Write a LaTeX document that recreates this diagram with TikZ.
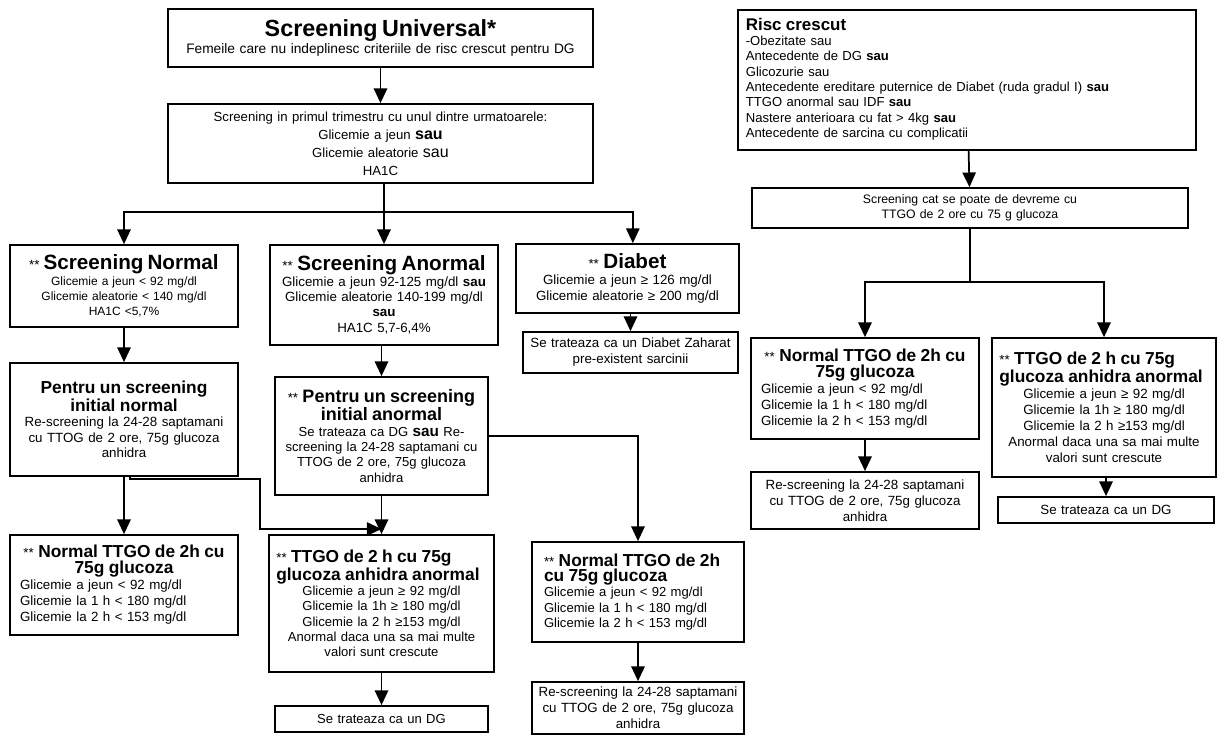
\documentclass[tikz,border=0pt]{standalone}
\usepackage{fontspec}
\setmainfont{Liberation Sans}
\usetikzlibrary{arrows.meta}

\newcommand{\stars}{{\fontsize{10}{12}\selectfont **}\ }
\newcommand{\boxtitle}[2]{{\fontsize{#1}{#1}\selectfont\bfseries #2}}
\newcommand{\ctrline}[1]{\makebox[\linewidth]{#1}}
\newcommand{\lftline}[1]{\makebox[\linewidth][l]{#1}}

\begin{document}
\begin{tikzpicture}[x=0.75pt, y=-0.75pt,
    box/.style={draw, line width=1.3pt, inner xsep=4pt, inner ysep=2pt, align=center, font=\fontsize{10}{12}\selectfont},
    line/.style={line width=1.3pt},
    arr/.style={line width=1.3pt, -{Triangle[length=11pt, width=10pt]}}
]
    \useasboundingbox (0,0) rectangle (1217,735);

    % Universal screening branch
    \node[box, text width=310.75pt, minimum height=43.5pt, font=\fontsize{10.3}{12.5}\selectfont] (univ) at (380.5,38) {
        \boxtitle{17.5}{Screening Universal*}\\
        Femeile care nu indeplinesc criteriile de risc crescut pentru DG
    };
    \node[box, text width=310.75pt, minimum height=59.25pt, font=\fontsize{9.9}{13.5}\selectfont] (trim) at (380.5,143.5) {
        Screening in primul trimestru cu unul dintre urmatoarele:\\
        Glicemie a jeun {\fontsize{12}{13.5}\selectfont\bfseries sau}\\
        Glicemie aleatorie {\fontsize{12}{13.5}\selectfont sau}\\
        HA1C
    };

    % First results
    \node[box, text width=163pt, minimum height=61.5pt, font=\fontsize{9}{11.5}\selectfont] (norm) at (124,286) {
        \stars\boxtitle{15.5}{Screening Normal}\\
        Glicemie a jeun < 92 mg/dl\\
        Glicemie aleatorie < 140 mg/dl\\
        HA1C <5,7\%
    };
    \node[box, text width=163pt, minimum height=75pt, font=\fontsize{10}{11.5}\selectfont] (anorm) at (384,295) {
        \stars\boxtitle{15.5}{Screening Anormal}\\
        Glicemie a jeun 92-125 mg/dl \textbf{sau}\\
        Glicemie aleatorie 140-199 mg/dl\\
        \textbf{sau}\\
        HA1C 5,7-6,4\%
    };
    \node[box, text width=159.25pt, minimum height=51.75pt] (diab) at (627.5,278.5) {
        \stars\boxtitle{15.5}{Diabet}\\
        Glicemie a jeun ≥ 126 mg/dl\\
        Glicemie aleatorie ≥ 200 mg/dl
    };
    \node[box, text width=153.25pt, minimum height=30.75pt] (diabt) at (630.5,352.5) {
        Se trateaza ca un Diabet Zaharat\\
        pre-existent sarcinii
    };

    % Follow-up
    \node[box, text width=163pt, minimum height=84.75pt, font=\fontsize{10}{11.5}\selectfont] (pnorm) at (124,419.5) {
        \boxtitle{13}{Pentru un screening\\ initial normal}\\
        Re-screening la 24-28 saptamani\\
        cu TTOG de 2 ore, 75g glucoza\\
        anhidra
    };
    \node[box, text width=151.75pt, minimum height=88.5pt, font=\fontsize{9.8}{11.5}\selectfont] (panorm) at (381.5,436) {
        \stars\boxtitle{13.5}{Pentru un screening\\ initial anormal}\\
        Se trateaza ca DG {\fontsize{11.5}{13}\selectfont\bfseries sau} Re-\\
        screening la 24-28 saptamani cu\\
        TTOG de 2 ore, 75g glucoza\\
        anhidra
    };

    % TTGO results, left
    \node[box, text width=156pt, inner xsep=7.5pt, minimum height=75pt, align=left] (nttgo1) at (124,585) {
        \ctrline{\stars\boxtitle{13}{Normal TTGO de 2h cu}}\\
        \ctrline{\boxtitle{13}{75g glucoza}}\\
        Glicemie a jeun < 92 mg/dl\\
        Glicemie la 1 h < 180 mg/dl\\
        Glicemie la 2 h < 153 mg/dl
    };
    \node[box, text width=157.75pt, inner xsep=5.5pt, minimum height=102.75pt, font=\fontsize{9.8}{11.5}\selectfont] (attgo1) at (381.5,603.5) {
        \lftline{\stars\boxtitle{13}{TTGO de 2 h cu 75g}}\\
        \lftline{\boxtitle{13}{glucoza anhidra anormal}}\\
        Glicemie a jeun ≥ 92 mg/dl\\
        Glicemie la 1h ≥ 180 mg/dl\\
        Glicemie la 2 h ≥153 mg/dl\\
        Anormal daca una sa mai multe\\
        valori sunt crescute
    };
    \node[box, text width=151.75pt, minimum height=19.5pt, font=\fontsize{9.8}{11.5}\selectfont] (dg1) at (381.5,719) {Se trateaza ca un DG};
    \node[box, text width=141pt, inner xsep=9pt, minimum height=75pt, align=left, font=\fontsize{9.8}{11.5}\selectfont] (nttgo2) at (638,592) {
        \stars\boxtitle{13}{Normal TTGO de 2h\\ cu 75g glucoza}\\
        Glicemie a jeun < 92 mg/dl\\
        Glicemie la 1 h < 180 mg/dl\\
        Glicemie la 2 h < 153 mg/dl
    };
    \node[box, text width=151pt, minimum height=39pt] (rescr1) at (638,708) {
        Re-screening la 24-28 saptamani\\
        cu TTOG de 2 ore, 75g glucoza\\
        anhidra
    };

    % High risk branch
    \node[box, anchor=north west, text width=331.5pt, inner xsep=6pt, inner ysep=6pt, text depth=84pt, align=left, font=\fontsize{9.8}{11.5}\selectfont] (risc) at (737,9) {
        \boxtitle{12.7}{Risc crescut}\\
        -Obezitate sau\\
        Antecedente de DG \textbf{sau}\\
        Glicozurie sau\\
        Antecedente ereditare puternice de Diabet (ruda gradul I) \textbf{sau}\\
        TTGO anormal sau IDF \textbf{sau}\\
        Nastere anterioara cu fat > 4kg \textbf{sau}\\
        Antecedente de sarcina cu complicatii
    };
    \node[box, text width=319pt, minimum height=30pt, font=\fontsize{9.2}{11.5}\selectfont] (scr2) at (970,208) {
        Screening cat se poate de devreme cu\\
        TTGO de 2 ore cu 75 g glucoza
    };
    \node[box, text width=156pt, inner xsep=7.5pt, minimum height=75.75pt, align=left] (nttgo3) at (865,388.5) {
        \ctrline{\stars\boxtitle{13}{Normal TTGO de 2h cu}}\\
        \ctrline{\boxtitle{13}{75g glucoza}}\\
        Glicemie a jeun < 92 mg/dl\\
        Glicemie la 1 h < 180 mg/dl\\
        Glicemie la 2 h < 153 mg/dl
    };
    \node[box, text width=157pt, inner xsep=5.5pt, minimum height=104.25pt] (attgo2) at (1104,407.5) {
        \lftline{\stars\boxtitle{13}{TTGO de 2 h cu 75g}}\\
        \lftline{\boxtitle{13}{glucoza anhidra anormal}}\\
        Glicemie a jeun ≥ 92 mg/dl\\
        Glicemie la 1h ≥ 180 mg/dl\\
        Glicemie la 2 h ≥153 mg/dl\\
        Anormal daca una sa mai multe\\
        valori sunt crescute
    };
    \node[box, text width=163pt, minimum height=42.75pt] (rescr2) at (865,500.5) {
        Re-screening la 24-28 saptamani\\
        cu TTOG de 2 ore, 75g glucoza\\
        anhidra
    };
    \node[box, text width=154pt, minimum height=19.5pt] (dg2) at (1106,510) {Se trateaza ca un DG};

    % Connectors
    \coordinate (fork1) at (384,212);
    \coordinate (cross1) at (260,479);
    \coordinate (cross2) at (260,529);
    \coordinate (fork2) at (970,282);

    \draw[arr] (univ) -- (trim);
    \draw[arr] (trim.south -| anorm.north) -- (anorm.north);
    \draw[arr] (fork1) -| (norm.north);
    \draw[arr] (fork1) -| ([xshift=4pt]diab.north);
    \draw[arr] (diab.south -| diabt.north) -- (diabt.north);
    \draw[arr] (norm) -- (pnorm);
    \draw[arr] (anorm.south -| panorm.north) -- (panorm.north);
    \draw[arr] (pnorm) -- (nttgo1);
    \draw[arr] ([xshift=4.5pt]pnorm.south) |- (cross1) -- (cross2) -- (cross2 -| attgo1.north);
    \draw[arr] (panorm) -- (attgo1);
    \draw[arr] (attgo1) -- (dg1);
    \draw[arr] (panorm.east) -| (nttgo2.north);
    \draw[arr] (nttgo2) -- (rescr1);

    \draw[arr] (risc) -- (scr2);
    \draw[line] (scr2) -- (fork2);
    \draw[arr] (fork2) -| (nttgo3.north);
    \draw[arr] (fork2) -| (attgo2.north);
    \draw[arr] (nttgo3) -- (rescr2);
    \draw[arr] (attgo2.south -| dg2.north) -- (dg2.north);
\end{tikzpicture}
\end{document}
